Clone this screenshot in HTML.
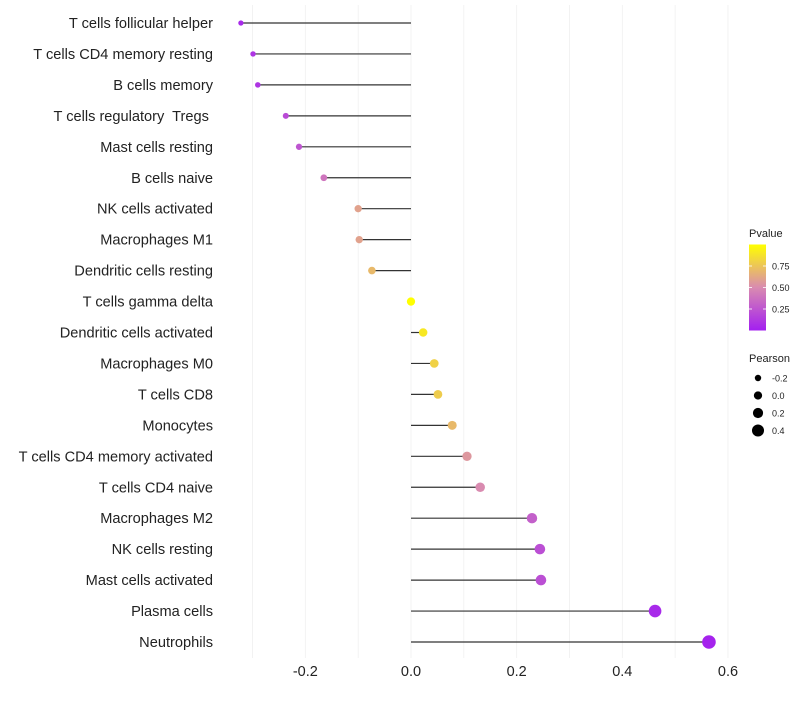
<!DOCTYPE html>
<html><head><meta charset="utf-8"><style>
body{margin:0;background:#fff;font-family:"Liberation Sans",sans-serif}
svg text{font-family:"Liberation Sans",sans-serif;white-space:pre}
</style></head><body>
<svg id="chart" width="800" height="700"></svg>
<script>
const categories=["T cells follicular helper","T cells CD4 memory resting","B cells memory","T cells regulatory  Tregs ","Mast cells resting","B cells naive","NK cells activated","Macrophages M1","Dendritic cells resting","T cells gamma delta","Dendritic cells activated","Macrophages M0","T cells CD8","Monocytes","T cells CD4 memory activated","T cells CD4 naive","Macrophages M2","NK cells resting","Mast cells activated","Plasma cells","Neutrophils"];
const pearson=[-0.322,-0.299,-0.290,-0.237,-0.212,-0.165,-0.100,-0.098,-0.074,0.0,0.023,0.044,0.051,0.078,0.106,0.131,0.229,0.244,0.246,0.462,0.564];
const pvalue=[0.05,0.1,0.1,0.2,0.25,0.4,0.6,0.6,0.7,1.0,0.9,0.8,0.78,0.7,0.55,0.5,0.3,0.22,0.22,0.05,0.02];
const xTicks=[-0.2,0,0.2,0.4,0.6];
const xTickLabels=["-0.2","0.0","0.2","0.4","0.6"];
const xMinor=[-0.3,-0.1,0.1,0.3,0.5];
const pTicks=[0.25,0.5,0.75];
const pTickLabels=["0.25","0.50","0.75"];
const sizeVals=[-0.2,0,0.2,0.4];
const sizeLabels=["-0.2","0.0","0.2","0.4"];

const svg=document.getElementById('chart');
const NS="http://www.w3.org/2000/svg";
function mk(t,a,p){const e=document.createElementNS(NS,t);for(const k in a)e.setAttribute(k,a[k]);(p||svg).appendChild(e);return e;}
const x=v=>411+v*528.3;
const y=i=>23+i*30.95;
const r=v=>3.2+(v+0.2)*4.7;
function lerp(a,b,t){return a.map((c,i)=>Math.round(c+(b[i]-c)*t));}
function col(p){const s=[[163,31,240],[217,139,176],[255,255,0]];let c=p<0.5?lerp(s[0],s[1],p/0.5):lerp(s[1],s[2],(p-0.5)/0.5);return `rgb(${c[0]},${c[1]},${c[2]})`;}

xMinor.concat(xTicks).forEach(v=>{const g=mk('line',{x1:x(v),x2:x(v),y1:5,y2:658,stroke:'#f0f0f0','stroke-width':0.8});

});
xTicks.forEach((v,i)=>{const t=mk('text',{x:x(v),y:676,'text-anchor':'middle','font-size':14.5,fill:'#222'});t.textContent=xTickLabels[i];

});
categories.forEach((c,i)=>{
 const t=mk('text',{x:213,y:y(i)+5,'text-anchor':'end','font-size':14.6,fill:'#222'});t.textContent=c;
 
 
 const l=mk('line',{x1:x(0),x2:x(pearson[i]),y1:y(i),y2:y(i),stroke:'#333','stroke-width':1.2});
 
 
 const d=mk('circle',{cx:x(pearson[i]),cy:y(i),r:r(pearson[i]),fill:col(pvalue[i])});
 
 
});
const defs=mk('defs',{});const lg=mk('linearGradient',{id:'pg',x1:0,y1:1,x2:0,y2:0},defs);
[0,0.25,0.5,0.75,1].forEach(o=>mk('stop',{offset:o,'stop-color':col(o)},lg));
let t=mk('text',{x:749,y:237,'font-size':11,fill:'#222'});t.textContent="Pvalue";


const bar=mk('rect',{x:749,y:244.5,width:17,height:86,fill:'url(#pg)'});


pTicks.forEach((p,i)=>{const yy=330.5-p*86;
 mk('line',{x1:749,x2:752,y1:yy,y2:yy,stroke:'#fff','stroke-width':0.8});mk('line',{x1:763,x2:766,y1:yy,y2:yy,stroke:'#fff','stroke-width':0.8});
 const tt=mk('text',{x:772,y:yy+3.5,'font-size':9,fill:'#222'});tt.textContent=pTickLabels[i];
 
 });
t=mk('text',{x:749,y:362,'font-size':11,fill:'#222'});t.textContent="Pearson";


sizeVals.forEach((v,i)=>{const yy=378+i*17.5;
 const c=mk('circle',{cx:758,cy:yy,r:r(v),fill:'#000'});
 
 
 const tt=mk('text',{x:772,y:yy+3.5,'font-size':9,fill:'#222'});tt.textContent=sizeLabels[i];
 
 });
</script>
</body></html>
